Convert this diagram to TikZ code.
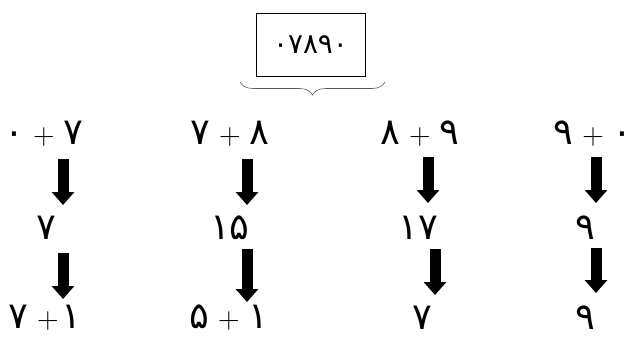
\documentclass[tikz,border=0pt]{standalone}
\usepackage{fontspec}
\newfontfamily\fa[Script=Arabic]{DejaVu Sans}
\usetikzlibrary{arrows.meta,decorations.pathreplacing}
\TeXXeTstate=1
\newcommand{\pl}{\hspace{9bp}{\rmfamily\fontsize{30}{30}\selectfont +}\hspace{9bp}}
\newcommand{\plt}{\hspace{9bp}{\rmfamily\fontsize{30}{30}\selectfont +}\hspace{3bp}}
\begin{document}
\begin{tikzpicture}[x=1bp,y=-1bp,
  num/.style={inner sep=0pt, font=\fa\fontsize{37}{37}\selectfont},
  boxnum/.style={draw, line width=1bp, minimum width=109bp, minimum height=63bp, font=\fa\fontsize{28}{28}\selectfont},
  bigarrow/.style={line width=11bp, -{Triangle[width=22bp,length=13bp]}}]
\useasboundingbox (0,0) rectangle (627,336);
% top box
\node[boxnum] (box) at (310.5,44.5) {۰۷۸۹۰};
\coordinate (bl) at (240,82);
\coordinate (br) at (385,82);
\draw[decorate, decoration={brace, mirror, amplitude=13bp}, line width=0.6bp, gray!70!black] (bl) -- (br);
% column 1
\node[num] (a1) at (44,134) {۰\pl۷};
\node[num] (a2) at (46,228) {۷};
\node[num] (a3) at (45,318) {۷\plt۱};
% column 2
\node[num] (b1) at (230,134) {۷\pl۸};
\node[num] (b2) at (230,228) {۱۵};
\node[num] (b3) at (229,318) {۵\pl۱};
% column 3
\node[num] (c1) at (420,134) {۸\pl۹};
\node[num] (c2) at (418,228) {۱۷};
\node[num] (c3) at (422,318) {۷};
% column 4
\node[num] (d1) at (593,134) {۹\pl۰};
\node[num] (d2) at (585,228) {۹};
\node[num] (d3) at (585,318) {۹};
% arrows
\coordinate (a1s) at (63,159); \coordinate (a1e) at (63,205);
\coordinate (a2s) at (63,253); \coordinate (a2e) at (63,299);
\coordinate (b1s) at (247,159); \coordinate (b1e) at (247,205);
\coordinate (b2s) at (247,249); \coordinate (b2e) at (247,302);
\coordinate (c1s) at (428,157); \coordinate (c1e) at (428,203);
\coordinate (c2s) at (435,249); \coordinate (c2e) at (435,295);
\coordinate (d1s) at (596,157); \coordinate (d1e) at (596,203);
\coordinate (d2s) at (596,248); \coordinate (d2e) at (596,293);
\foreach \p in {a1,a2,b1,b2,c1,c2,d1,d2}
  \draw[bigarrow] (\p s) -- (\p e);
\end{tikzpicture}
\end{document}
